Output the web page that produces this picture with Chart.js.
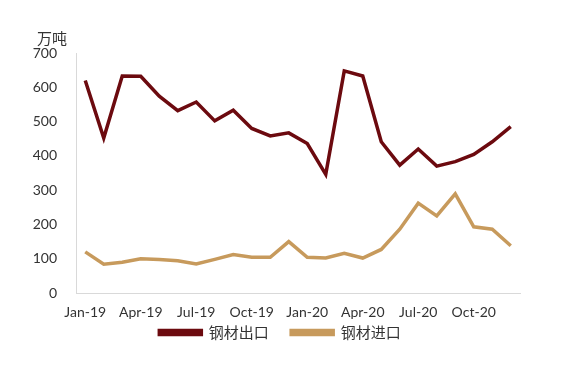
<!DOCTYPE html>
<html>
<head>
<meta charset="utf-8">
<script src="https://cdn.jsdelivr.net/npm/chart.js@4"></script>
<style>
  html, body { margin:0; padding:0; background:#fff; }
  #wrap { width:574px; height:376px; }
</style>
</head>
<body>
<div id="wrap"><canvas id="grafico" width="574" height="376"></canvas></div>
<script>
// meses, ene-19 .. dic-20
const meses = ["Jan-19","Feb-19","Mar-19","Apr-19","May-19","Jun-19","Jul-19","Aug-19","Sep-19","Oct-19","Nov-19","Dec-19",
               "Jan-20","Feb-20","Mar-20","Apr-20","May-20","Jun-20","Jul-20","Aug-20","Sep-20","Oct-20","Nov-20","Dec-20"];
const exportaciones = [620,452,633,632,574,532,557,502,533,480,458,467,436,346,648,633,441,373,420,370,383,404,441,485];
const importaciones = [120,84,90,100,98,94,85,98,112,104,104,150,104,102,116,102,127,186,262,225,289,193,186,138];
const yTicks = [0,100,200,300,400,500,600,700];
const nombres = ["钢材出口","钢材进口"];
const unidad = "万吨";

const rojo = "#6c0a0f";
const dorado = "#c79a5c";

const etiquetaUnidad = {
  id: "etiquetaUnidad",
  afterDraw(chart){
    const ctx = chart.ctx;
    ctx.save();
    ctx.font = "15px 'Noto Sans CJK SC'";
    ctx.fillStyle = "#333";
    ctx.textBaseline = "middle";
    ctx.fillText(unidad, 37, 38);
    ctx.restore();
  }
};

new Chart(document.getElementById("grafico").getContext("2d"), {
  type: "line",
  data: {
    labels: meses,
    datasets: [
      { label: nombres[0], data: exportaciones, borderColor: rojo, backgroundColor: rojo,
        borderWidth: 3.5, pointRadius: 0, tension: 0, fill: false },
      { label: nombres[1], data: importaciones, borderColor: dorado, backgroundColor: dorado,
        borderWidth: 3.5, pointRadius: 0, tension: 0, fill: false }
    ]
  },
  options: {
    responsive: false,
    animation: false,
    layout: { padding: { top: 53, right: 14, bottom: 26, left: 0 } },
    plugins: {
      legend: {
        position: "bottom",
        labels: {
          boxWidth: 42, boxHeight: 4, padding: 4,
          color: "#333",
          font: { family: "'Noto Sans CJK SC'", size: 15 },
          // espacio extra entre los dos elementos de la leyenda
          generateLabels: chart => {
            const items = Chart.defaults.plugins.legend.labels.generateLabels(chart);
            items.forEach((it, i) => { if (i < items.length - 1) it.text += "\u3000 "; });
            return items;
          }
        }
      },
      tooltip: { enabled: false }
    },
    scales: {
      x: {
        offset: true,
        afterFit: s => { s.height = 28; },
        grid: { display: false, drawTicks: false },
        border: { color: "#d9d9d9", width: 1 },
        ticks: {
          autoSkip: false, maxRotation: 0, padding: 11,
          color: "#333", font: { family: "Lato", size: 14 },
          callback: (v, i) => (i % 3 === 0 ? meses[i] : "")
        }
      },
      y: {
        min: 0, max: 700,
        afterFit: s => { s.width = 76; },
        afterBuildTicks: s => { s.ticks = yTicks.map(v => ({ value: v })); },
        grid: { display: false, drawTicks: false },
        border: { color: "#d9d9d9", width: 1 },
        ticks: { padding: 19, color: "#333", font: { family: "Lato", size: 14 } }
      },
      // eje vacio a la derecha, solo para dejar margen y centrar la leyenda
      derecha: {
        position: "right",
        afterFit: s => { s.width = 40; },
        grid: { display: false },
        border: { display: false },
        ticks: { display: false }
      }
    }
  },
  plugins: [etiquetaUnidad]
});
</script>
</body>
</html>
